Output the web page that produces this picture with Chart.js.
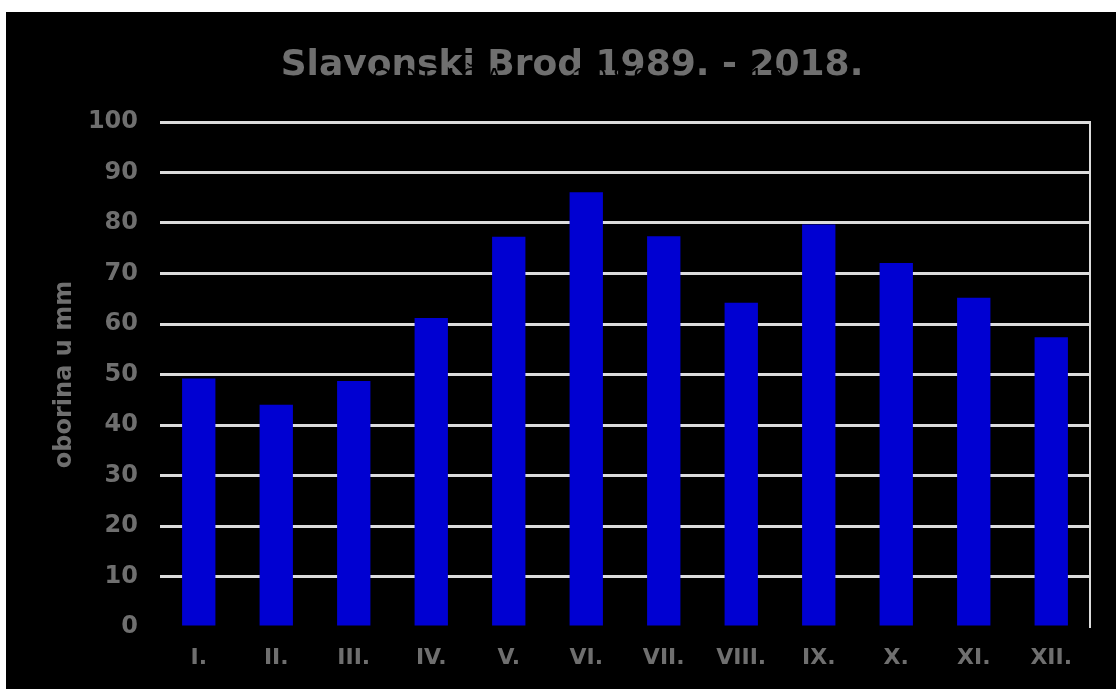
<!DOCTYPE html>
<html>
<head>
<meta charset="utf-8">
<script src="https://cdn.jsdelivr.net/npm/chart.js@4/dist/chart.umd.min.js"></script>
<style>
  html, body { margin: 0; padding: 0; background: #fff; }
  #wrap { position: absolute; left: 6px; top: 12px; width: 1110px; height: 677px; background: #000; }
  canvas { display: block; }
</style>
</head>
<body>
<div id="wrap"><canvas id="rainChart" width="1110" height="677"></canvas></div>
<script>
// monthly precipitation, Slavonski Brod 1989-2018
const months = ['I.', 'II.', 'III.', 'IV.', 'V.', 'VI.', 'VII.', 'VIII.', 'IX.', 'X.', 'XI.', 'XII.'];
const precipitation = [49.2, 44.0, 48.7, 61.2, 77.3, 86.1, 77.4, 64.2, 79.7, 72.1, 65.2, 57.4];
const yTicks = [0, 10, 20, 30, 40, 50, 60, 70, 80, 90, 100];

const GRAY = '#6f6f6f';
const GRID = '#dcdcdc';

// hidden black caption that only shows over the grey title
const overlayText = {
    id: 'overlayText',
    afterDraw(chart) {
        const ctx = chart.ctx;
        ctx.save();
        ctx.fillStyle = '#000';
        ctx.font = '26px "Liberation Sans", Arial, sans-serif';
        ctx.textBaseline = 'alphabetic';
        ctx.textAlign = 'left';
        ctx.letterSpacing = '6px';
        ctx.fillText('MODRIČA', 338, 74);
        ctx.fillText('1989. - 2018.', 566, 74);
        ctx.restore();
    }
};

new Chart(document.getElementById('rainChart'), {
    type: 'bar',
    data: {
        labels: months,
        datasets: [{
            data: precipitation,
            backgroundColor: '#0000d2',
            borderWidth: 0,
            barPercentage: 0.43,
            categoryPercentage: 1.0,
            yAxisID: 'y'
        }]
    },
    options: {
        responsive: false,
        animation: false,
        layout: { padding: { top: 0, right: 26, bottom: 0, left: 48 } },
        plugins: {
            legend: { display: false },
            tooltip: { enabled: false },
            title: {
                display: true,
                text: 'Slavonski Brod 1989. - 2018.',
                color: GRAY,
                font: { family: '"DejaVu Sans", sans-serif', size: 36, weight: 'bold', lineHeight: 1.2 },
                padding: { top: 32, bottom: 34.8 }
            }
        },
        scales: {
            x: {
                grid: { display: false, drawTicks: false },
                border: { display: false },
                ticks: {
                    color: GRAY,
                    padding: 18,
                    font: { family: '"DejaVu Sans", sans-serif', size: 22, weight: 'bold' }
                },
                afterFit(scale) { scale.height = 62; }
            },
            y: {
                min: 0,
                max: 100,
                afterBuildTicks(scale) { scale.ticks = yTicks.map(v => ({ value: v })); },
                grid: {
                    color: ctx => (ctx.tick && ctx.tick.value === 0 ? 'rgba(0,0,0,0)' : GRID),
                    lineWidth: 3,
                    drawTicks: false
                },
                border: { display: false },
                ticks: {
                    color: GRAY,
                    padding: 22,
                    font: { family: '"DejaVu Sans", sans-serif', size: 24, weight: 'bold' }
                },
                title: {
                    display: true,
                    text: 'oborina u mm',
                    color: GRAY,
                    font: { family: '"DejaVu Sans", sans-serif', size: 24, weight: 'bold', lineHeight: 0.9 },
                    padding: { top: 0, bottom: 0 }
                },
                afterFit(scale) { scale.width = 106; }
            },
            yRight: {
                position: 'right',
                min: 0,
                max: 100,
                grid: { drawOnChartArea: false, drawTicks: false },
                border: { display: true, color: GRID, width: 2 },
                ticks: { display: false },
                afterFit(scale) { scale.width = 0; }
            }
        }
    },
    plugins: [overlayText]
});
</script>
</body>
</html>
